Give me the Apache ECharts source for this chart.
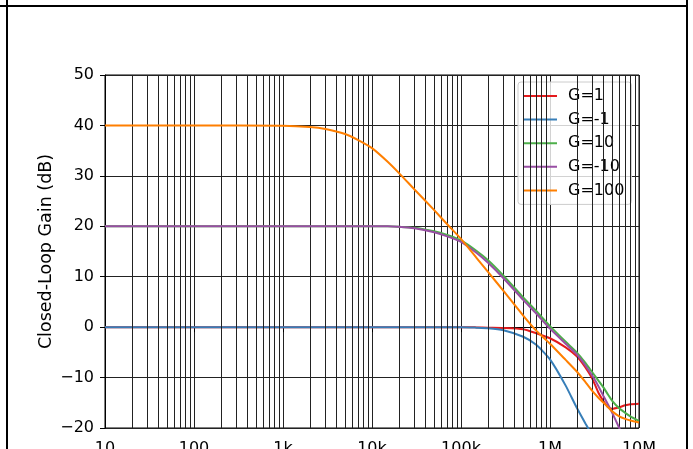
<!DOCTYPE html>
<html>
<head>
<meta charset="utf-8">
<script src="https://cdn.jsdelivr.net/npm/echarts/dist/echarts.min.js"></script>
<style>
  html, body { margin: 0; padding: 0; background: #fff; }
  #chart { position: absolute; left: 0; top: 0; width: 693px; height: 449px; }
  .rule { position: absolute; background: #000; z-index: 10; }
</style>
</head>
<body>
<div id="chart"></div>
<div class="rule" style="left:0;top:5px;width:688px;height:2px;"></div>
<div class="rule" style="left:6px;top:0;width:2px;height:449px;"></div>
<div class="rule" style="left:686px;top:0;width:2px;height:449px;"></div>
<script>
// Frequencies (Hz)
const freqHz = [10, 100, 1e3, 2e3, 3e3, 5e3, 7e3, 1e4, 1.5e4, 2e4, 3e4, 5e4, 7e4, 1e5,
  1.5e5, 2e5, 3e5, 5e5, 7e5, 1e6, 1.5e6, 2e6, 2.5e6, 3e6, 3.5e6, 4e6, 4.5e6, 5e6, 6e6, 7e6, 8e6, 1e7];

// Closed-loop gain (dB) per configuration
const gainG1 = [0, 0, 0, 0, 0, 0, 0, 0, 0, 0, 0, 0, 0, 0,
  -0.05, -0.1, -0.15, -0.4, -1.2, -2.2, -4.0, -5.8, -8.0, -10.3, -13.0, -14.7, -15.9, -16.2, -15.9, -15.5, -15.3, -15.2];
const gainGm1 = [0, 0, 0, 0, 0, 0, 0, 0, 0, 0, 0, 0, 0, 0,
  -0.1, -0.2, -0.6, -1.9, -3.5, -6.4, -11.6, -16.0, -19.1, -21.5, null, null, null, null, null, null, null, null];
const gainG10 = [20, 20, 20, 20, 20, 20, 20, 20, 20, 19.9, 19.7, 19.0, 18.3, 17.2,
  15.1, 13.3, 10.2, 5.9, 3.2, 0.2, -2.9, -5.0, -7.1, -9.0, -10.6, -12.0, -13.4, -14.6, -16.1, -17.0, -17.7, -18.6];
const gainGm10 = [20, 20, 20, 20, 20, 20, 20, 20, 20, 19.9, 19.6, 18.8, 18.0, 16.9,
  14.7, 12.8, 9.7, 5.4, 2.7, -0.3, -3.3, -5.4, -7.6, -9.7, -11.7, -13.7, -15.4, -17.0, -20.0, -22.5, -24.5, -27.5];
const gainG100 = [40, 40, 39.95, 39.7, 39.3, 38.3, 37.1, 35.5, 32.8, 30.6, 27.3, 23.2, 20.4, 17.5,
  13.7, 11.0, 7.2, 2.3, -0.7, -3.3, -6.5, -8.8, -10.9, -12.7, -14.0, -15.0, -15.9, -16.7, -17.7, -18.2, -18.5, -18.9];

const seriesNames = ['G=1', 'G=-1', 'G=10', 'G=-10', 'G=100'];
const seriesColors = ['#e41a1c', '#377eb8', '#4daf4a', '#984ea3', '#ff7f00'];
const seriesValues = [gainG1, gainGm1, gainG10, gainGm10, gainG100];

// Tick labels
const xTickLabels = ['10', '100', '1k', '10k', '100k', '1M', '10M'];
const yTickLabels = ['\u221220', '\u221210', '0', '10', '20', '30', '40', '50'];
const yAxisTitle = 'Closed-Loop Gain (dB)';

// Minor log gridline positions (2..9 per decade)
const minorGrid = [];
for (let d = 1; d < 7; d++) {
  for (let m = 2; m <= 9; m++) minorGrid.push(m * Math.pow(10, d));
}

const FONT = 'DejaVu Sans';
const chart = echarts.init(document.getElementById('chart'), null, { renderer: 'canvas' });

const curves = seriesNames.map((name, i) => ({
  name: name,
  type: 'line',
  data: freqHz.map((f, k) => [f, seriesValues[i][k]]),
  showSymbol: false,
  symbol: 'none',
  smooth: 0.2,
  connectNulls: false,
  clip: true,
  z: 3 + i,
  lineStyle: { color: seriesColors[i], width: 2 },
  itemStyle: { color: seriesColors[i] }
}));

const gridSeries = {
  name: '_minor',
  type: 'line',
  data: [],
  silent: true,
  z: 1,
  markLine: {
    silent: true,
    symbol: ['none', 'none'],
    label: { show: false },
    emphasis: { disabled: true },
    animation: false,
    lineStyle: { color: '#222', width: 1, type: 'solid' },
    data: minorGrid.map(v => ({ xAxis: v }))
  }
};

chart.setOption({
  animation: false,
  backgroundColor: '#fff',
  grid: {
    left: 105, right: 54, top: 75, bottom: 21,
    outerBoundsMode: 'none', containLabel: false,
    show: true, borderColor: '#000', borderWidth: 1, backgroundColor: 'transparent'
  },
  legend: {
    data: seriesNames.map(n => ({ name: n, icon: 'rect' })),
    orient: 'vertical',
    left: 518, top: 82,
    padding: [6, 7, 6, 5],
    itemWidth: 34, itemHeight: 2, itemGap: 7.6,
    backgroundColor: 'rgba(255,255,255,0.8)',
    borderColor: '#cccccc', borderWidth: 1, borderRadius: 3,
    textStyle: { color: '#000', fontFamily: FONT, fontSize: 16, padding: [0, 0, 0, 6] }
  },
  xAxis: {
    type: 'log', logBase: 10, min: 10, max: 1e7,
    axisLine: { show: true, lineStyle: { color: '#000', width: 1 } },
    axisTick: { show: true, length: 5, lineStyle: { color: '#000' } },
    axisLabel: {
      color: '#000', fontFamily: FONT, fontSize: 16, margin: 13,
      formatter: v => xTickLabels[Math.round(Math.log10(v)) - 1]
    },
    splitLine: { show: true, lineStyle: { color: '#222', width: 1 } }
  },
  yAxis: {
    type: 'value', min: -20, max: 50, interval: 10,
    name: yAxisTitle, nameLocation: 'middle', nameGap: 50, nameRotate: 90,
    nameMoveOverlap: false,
    nameTextStyle: { color: '#000', fontFamily: FONT, fontSize: 17.5 },
    axisLine: { show: true, lineStyle: { color: '#000', width: 1 } },
    axisTick: { show: true, length: 5, lineStyle: { color: '#000' } },
    axisLabel: {
      color: '#000', fontFamily: FONT, fontSize: 16, margin: 11,
      formatter: v => yTickLabels[Math.round((v + 20) / 10)]
    },
    splitLine: { show: true, lineStyle: { color: '#222', width: 1 } }
  },
  series: [gridSeries].concat(curves)
});
</script>
</body>
</html>
